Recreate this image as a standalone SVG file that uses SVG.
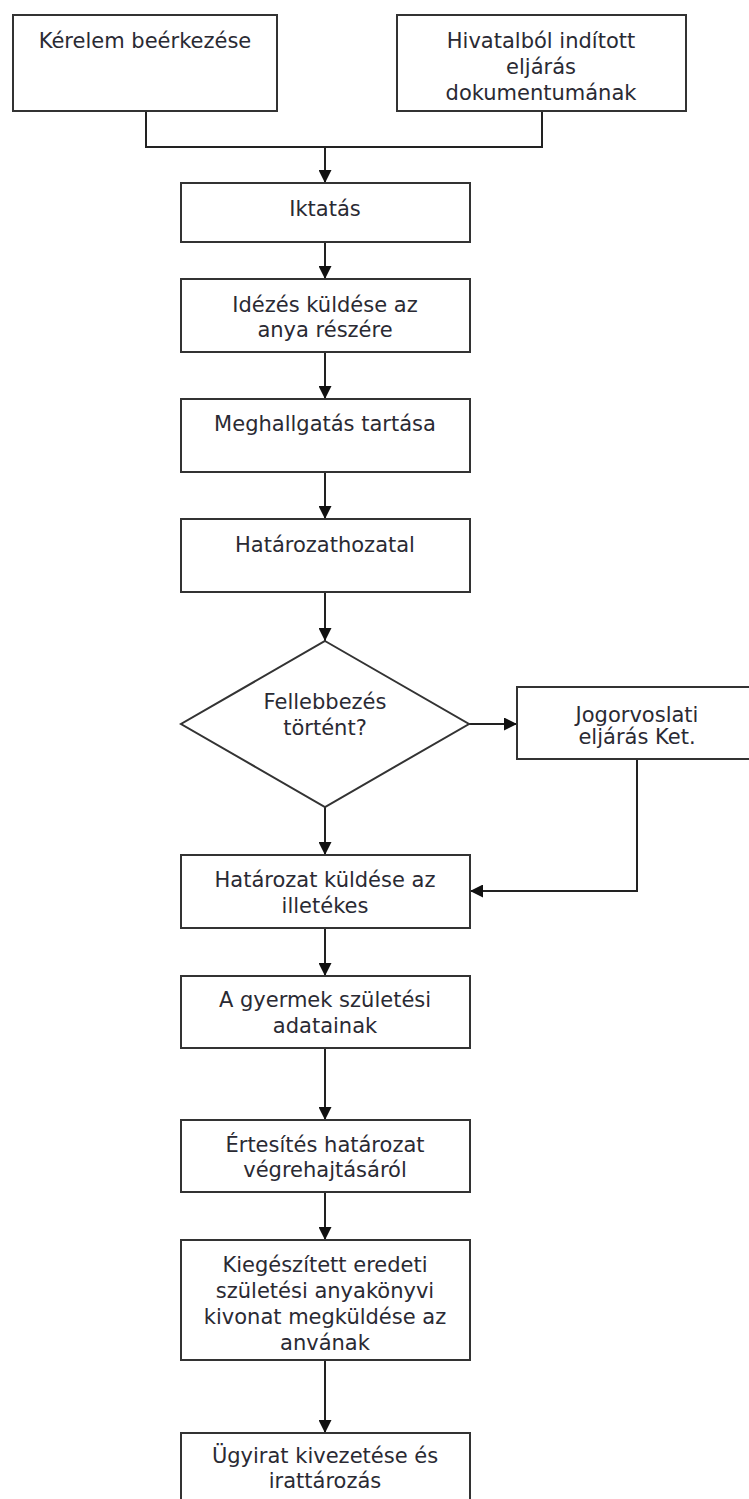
<svg xmlns="http://www.w3.org/2000/svg" width="749" height="1499" viewBox="0 0 749 1499">
  <style>
    .box { fill: #ffffff; stroke: #333333; stroke-width: 2; }
    .lbl { font-family: "DejaVu Sans", Verdana, sans-serif; font-size: 21px; fill: #2a2a33; text-anchor: middle; }
    .wire { fill: none; stroke: #222222; stroke-width: 2; }
  </style>
  <defs>
    <marker id="arrow" markerUnits="userSpaceOnUse" markerWidth="13" markerHeight="13" refX="13" refY="6.5" orient="auto">
      <path d="M0,0 L13,6.5 L0,13 z" fill="#111111"/>
    </marker>
  </defs>
  <rect width="749" height="1499" fill="#ffffff"/>

  <!-- connectors -->
  <g id="connectors">
    <path class="wire" d="M146,111 V147 H542 V111"/>
    <path class="wire" d="M325,147 V183" marker-end="url(#arrow)"/>
    <path class="wire" d="M325,242 V279" marker-end="url(#arrow)"/>
    <path class="wire" d="M325,352 V399" marker-end="url(#arrow)"/>
    <path class="wire" d="M325,472 V519" marker-end="url(#arrow)"/>
    <path class="wire" d="M325,592 V641" marker-end="url(#arrow)"/>
    <path class="wire" d="M469,724 H517" marker-end="url(#arrow)"/>
    <path class="wire" d="M325,807 V855" marker-end="url(#arrow)"/>
    <path class="wire" d="M637,759 V891 H470" marker-end="url(#arrow)"/>
    <path class="wire" d="M325,928 V976" marker-end="url(#arrow)"/>
    <path class="wire" d="M325,1048 V1120" marker-end="url(#arrow)"/>
    <path class="wire" d="M325,1192 V1240" marker-end="url(#arrow)"/>
    <path class="wire" d="M325,1360 V1433" marker-end="url(#arrow)"/>
  </g>

  <g id="kerelem">
    <rect class="box" x="13" y="15" width="264" height="96"/>
    <text class="lbl" x="145" y="48">Kérelem beérkezése</text>
  </g>

  <g id="hivatalbol">
    <rect class="box" x="397" y="15" width="289" height="96"/>
    <text class="lbl" x="541" y="48">Hivatalból indított</text>
    <text class="lbl" x="541" y="74">eljárás</text>
    <text class="lbl" x="541" y="100">dokumentumának</text>
  </g>

  <g id="iktatas">
    <rect class="box" x="181" y="183" width="289" height="59"/>
    <text class="lbl" x="325" y="216">Iktatás</text>
  </g>

  <g id="idezes">
    <rect class="box" x="181" y="279" width="289" height="73"/>
    <text class="lbl" x="325" y="312">Idézés küldése az</text>
    <text class="lbl" x="325" y="337">anya részére</text>
  </g>

  <g id="meghallgatas">
    <rect class="box" x="181" y="399" width="289" height="73"/>
    <text class="lbl" x="325" y="431">Meghallgatás tartása</text>
  </g>

  <g id="hatarozathozatal">
    <rect class="box" x="181" y="519" width="289" height="73"/>
    <text class="lbl" x="325" y="552">Határozathozatal</text>
  </g>

  <g id="fellebbezes">
    <polygon class="box" points="325,641 469,724 325,807 181,724"/>
    <text class="lbl" x="325" y="709">Fellebbezés</text>
    <text class="lbl" x="325" y="735">történt?</text>
  </g>

  <g id="jogorvoslati">
    <rect class="box" x="517" y="687" width="240" height="72"/>
    <text class="lbl" x="637" y="722">Jogorvoslati</text>
    <text class="lbl" x="637" y="744">eljárás Ket.</text>
  </g>

  <g id="hatarozat-kuldese">
    <rect class="box" x="181" y="855" width="289" height="73"/>
    <text class="lbl" x="325" y="887">Határozat küldése az</text>
    <text class="lbl" x="325" y="913">illetékes</text>
  </g>

  <g id="gyermek-adatai">
    <rect class="box" x="181" y="976" width="289" height="72"/>
    <text class="lbl" x="325" y="1007">A gyermek születési</text>
    <text class="lbl" x="325" y="1033">adatainak</text>
  </g>

  <g id="ertesites">
    <rect class="box" x="181" y="1120" width="289" height="72"/>
    <text class="lbl" x="325" y="1152">Értesítés határozat</text>
    <text class="lbl" x="325" y="1177">végrehajtásáról</text>
  </g>

  <g id="kiegeszitett">
    <rect class="box" x="181" y="1240" width="289" height="120"/>
    <text class="lbl" x="325" y="1272">Kiegészített eredeti</text>
    <text class="lbl" x="325" y="1298">születési anyakönyvi</text>
    <text class="lbl" x="325" y="1324">kivonat megküldése az</text>
    <text class="lbl" x="325" y="1350">anvának</text>
  </g>

  <g id="ugyirat">
    <rect class="box" x="181" y="1433" width="289" height="73"/>
    <text class="lbl" x="325" y="1463">Ügyirat kivezetése és</text>
    <text class="lbl" x="325" y="1488">irattározás</text>
  </g>
</svg>
